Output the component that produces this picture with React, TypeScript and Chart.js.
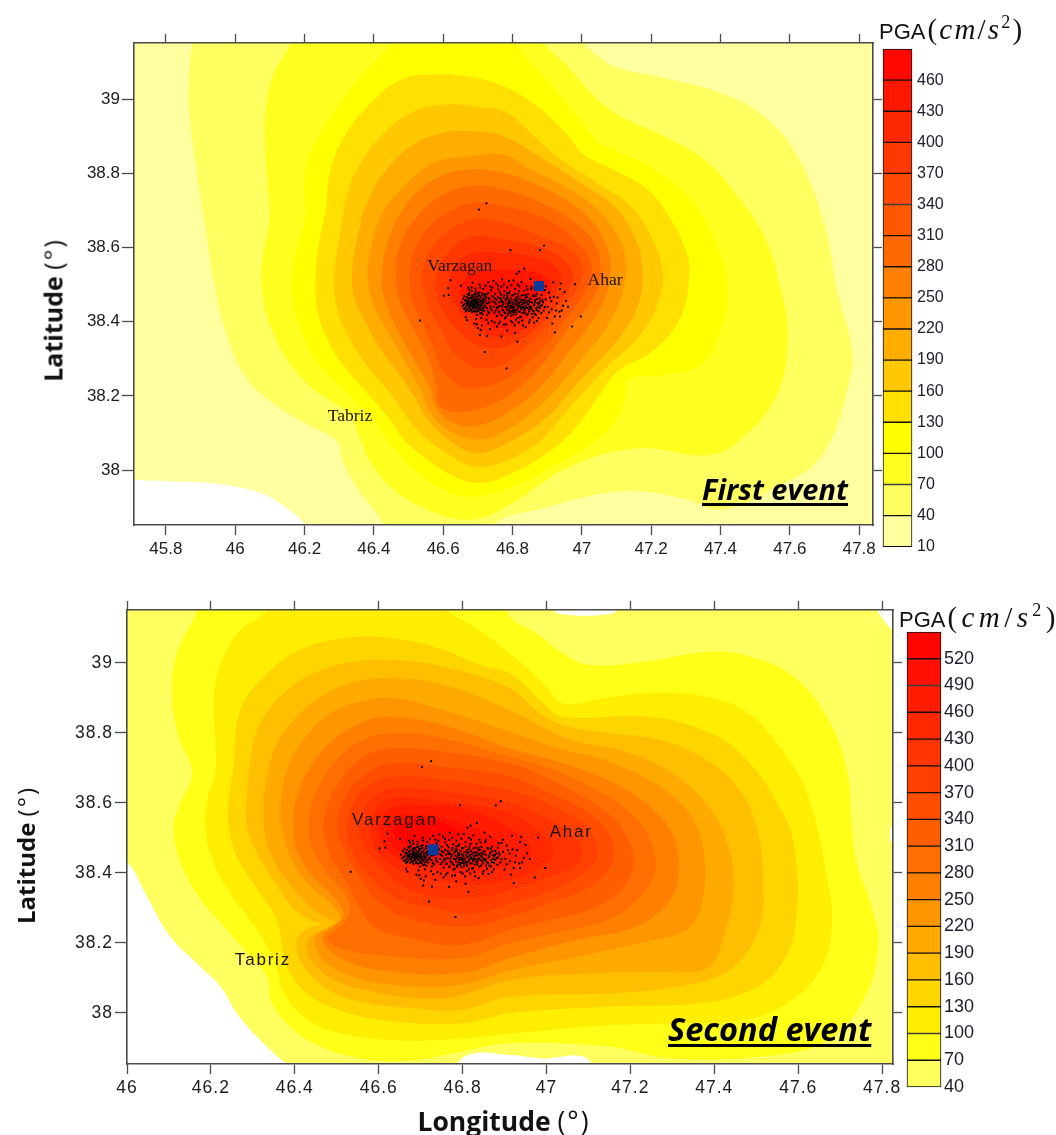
import React, { useEffect, useRef } from "react";
import { Chart, registerables } from "chart.js";

Chart.register(...registerables);

type Pair = number[];

// Longitude / latitude tick values
const lonTicks1 = [45.8, 46, 46.2, 46.4, 46.6, 46.8, 47, 47.2, 47.4, 47.6, 47.8];
const lonTicks2 = [46, 46.2, 46.4, 46.6, 46.8, 47, 47.2, 47.4, 47.6, 47.8];
const latTicks = [38, 38.2, 38.4, 38.6, 38.8, 39];

// PGA levels and colours
const levels1 = [10, 40, 70, 100, 130, 160, 190, 220, 250, 280, 310, 340, 370, 400, 430, 460, 490];
const levels2 = [40, 70, 100, 130, 160, 190, 220, 250, 280, 310, 340, 370, 400, 430, 460, 490, 520, 550];
const colors1 = ["#FFFF9F", "#FFFF60", "#FFFF20", "#FFFF00", "#FFE000", "#FFC800", "#FFAE00", "#FF9800", "#FF8000", "#FF6A00", "#FF5800", "#FF4800", "#FF3800", "#FF2800", "#FF1800", "#FF0800"];
const colors2 = ["#FFFF60", "#FFFF18", "#FFEE00", "#FFD500", "#FFBF00", "#FFAA00", "#FF9500", "#FF8000", "#FF6E00", "#FF5E00", "#FF4E00", "#FF4000", "#FF3400", "#FF2800", "#FF1C00", "#FF1000", "#FF0400"];

// First event: PGA contour outlines, lon/lat
const e1L10: Pair[] = [[45.516,39.331],[48.017,39.331],[48.017,37.624],[46.285,37.624],[46.199,37.852],[46.141,37.902],[46.074,37.938],[45.948,37.963],[45.823,37.969],[45.708,37.974],[45.516,37.983]];
const e1L40: Pair[] = [[45.886,39.223],[45.876,39.151],[45.867,39.061],[45.867,38.971],[45.891,38.792],[45.915,38.648],[45.939,38.504],[45.977,38.36],[46.035,38.244],[46.122,38.172],[46.218,38.118],[46.295,38.077],[46.309,38.028],[46.343,37.965],[46.401,37.893],[46.468,37.821],[46.67,37.812],[46.776,37.871],[46.872,37.893],[47.016,37.929],[47.161,37.943],[47.305,37.92],[47.401,37.893],[47.545,37.947],[47.69,38.037],[47.776,38.252],[47.776,38.342],[47.738,38.477],[47.699,38.666],[47.622,38.846],[47.526,38.953],[47.401,39.016],[47.238,39.057],[47.093,39.088],[47.036,39.124],[47.007,39.151],[46.978,39.223]];
const e1L70: Pair[] = [[46.17,39.223],[46.16,39.151],[46.112,39.07],[46.088,38.971],[46.088,38.837],[46.098,38.72],[46.098,38.666],[46.078,38.567],[46.078,38.477],[46.102,38.387],[46.151,38.297],[46.227,38.217],[46.324,38.154],[46.362,38.082],[46.391,38.019],[46.458,37.947],[46.555,37.893],[46.67,37.866],[46.776,37.898],[46.968,38.01],[47.161,38.059],[47.372,38.041],[47.478,38.1],[47.565,38.208],[47.594,38.36],[47.574,38.486],[47.526,38.63],[47.449,38.738],[47.353,38.837],[47.238,38.899],[47.113,38.953],[47.036,39.007],[46.959,39.088],[46.891,39.151],[46.862,39.223]];
const e1L100: Pair[] = [[46.458,39.223],[46.449,39.151],[46.362,39.061],[46.276,38.953],[46.218,38.854],[46.199,38.774],[46.203,38.684],[46.179,38.603],[46.165,38.522],[46.17,38.432],[46.199,38.36],[46.247,38.279],[46.324,38.208],[46.391,38.145],[46.439,38.082],[46.497,38.019],[46.583,37.956],[46.67,37.929],[46.776,37.947],[46.901,38.001],[47.016,38.064],[47.093,38.127],[47.127,38.199],[47.132,38.244],[47.238,38.257],[47.343,38.284],[47.401,38.378],[47.42,38.486],[47.391,38.603],[47.315,38.729],[47.209,38.81],[47.093,38.863],[47.05,38.881],[46.987,38.953],[46.872,39.079],[46.805,39.151],[46.766,39.223]];
const e1L130: Pair[] = [[46.574,39.066],[46.478,39.052],[46.381,38.98],[46.304,38.881],[46.271,38.792],[46.261,38.702],[46.242,38.612],[46.232,38.522],[46.237,38.432],[46.266,38.351],[46.314,38.279],[46.381,38.208],[46.439,38.145],[46.487,38.082],[46.555,38.028],[46.632,37.983],[46.708,37.965],[46.776,37.983],[46.872,38.028],[46.968,38.1],[47.055,38.208],[47.103,38.266],[47.209,38.324],[47.286,38.414],[47.31,38.522],[47.305,38.576],[47.257,38.675],[47.19,38.756],[47.103,38.805],[47.007,38.85],[46.949,38.913],[46.872,38.98],[46.776,39.034],[46.67,39.061]];
const e1L160: Pair[] = [[46.612,38.985],[46.516,38.967],[46.429,38.908],[46.362,38.828],[46.324,38.747],[46.304,38.648],[46.29,38.567],[46.285,38.504],[46.295,38.432],[46.333,38.351],[46.381,38.279],[46.439,38.217],[46.487,38.154],[46.535,38.1],[46.603,38.05],[46.689,38.01],[46.776,38.023],[46.872,38.073],[46.968,38.172],[47.064,38.27],[47.18,38.378],[47.228,38.477],[47.233,38.54],[47.199,38.63],[47.141,38.711],[47.045,38.774],[46.939,38.837],[46.853,38.908],[46.776,38.967],[46.689,38.98]];
const e1L190: Pair[] = [[46.689,38.913],[46.593,38.908],[46.506,38.872],[46.429,38.801],[46.381,38.72],[46.353,38.63],[46.338,38.54],[46.343,38.468],[46.372,38.405],[46.42,38.324],[46.478,38.252],[46.516,38.199],[46.555,38.136],[46.622,38.077],[46.699,38.046],[46.776,38.068],[46.891,38.136],[46.997,38.244],[47.103,38.351],[47.161,38.441],[47.175,38.54],[47.151,38.63],[47.093,38.711],[46.997,38.774],[46.891,38.837],[46.776,38.899]];
const e1L220: Pair[] = [[46.67,38.845],[46.574,38.828],[46.487,38.765],[46.42,38.684],[46.391,38.594],[46.381,38.522],[46.401,38.441],[46.449,38.36],[46.497,38.279],[46.535,38.217],[46.564,38.154],[46.622,38.104],[46.708,38.082],[46.776,38.104],[46.872,38.167],[46.978,38.275],[47.084,38.405],[47.127,38.522],[47.113,38.612],[47.045,38.702],[46.949,38.765],[46.853,38.81],[46.776,38.85]];
const e1L250: Pair[] = [[46.67,38.81],[46.574,38.783],[46.497,38.72],[46.449,38.639],[46.425,38.549],[46.429,38.468],[46.468,38.378],[46.516,38.297],[46.559,38.226],[46.579,38.172],[46.622,38.131],[46.689,38.118],[46.776,38.149],[46.872,38.217],[46.968,38.324],[47.055,38.441],[47.084,38.54],[47.064,38.621],[47.007,38.693],[46.92,38.747],[46.834,38.783],[46.776,38.801]];
const e1L280: Pair[] = [[46.68,38.765],[46.593,38.738],[46.526,38.684],[46.478,38.612],[46.463,38.522],[46.478,38.45],[46.516,38.378],[46.555,38.306],[46.579,38.235],[46.591,38.172],[46.67,38.158],[46.776,38.194],[46.872,38.27],[46.959,38.378],[47.036,38.468],[47.055,38.54],[47.036,38.612],[46.968,38.675],[46.882,38.72],[46.776,38.756]];
const e1L310: Pair[] = [[46.689,38.72],[46.612,38.693],[46.545,38.639],[46.511,38.576],[46.502,38.522],[46.511,38.459],[46.545,38.387],[46.574,38.324],[46.603,38.262],[46.67,38.221],[46.776,38.244],[46.872,38.315],[46.959,38.414],[47.016,38.495],[47.028,38.549],[46.997,38.603],[46.911,38.67],[46.776,38.711]];
const e1L340: Pair[] = [[46.689,38.675],[46.622,38.648],[46.564,38.594],[46.54,38.522],[46.555,38.45],[46.593,38.378],[46.632,38.315],[46.699,38.275],[46.776,38.288],[46.872,38.36],[46.949,38.441],[47.002,38.522],[46.978,38.585],[46.882,38.63],[46.776,38.666]];
const e1L370: Pair[] = [[46.689,38.63],[46.622,38.594],[46.579,38.522],[46.593,38.441],[46.651,38.369],[46.728,38.329],[46.814,38.347],[46.901,38.414],[46.973,38.513],[46.949,38.567],[46.872,38.603],[46.776,38.621]];
const e1L400: Pair[] = [[46.689,38.585],[46.641,38.558],[46.617,38.513],[46.632,38.45],[46.689,38.387],[46.766,38.36],[46.853,38.396],[46.939,38.513],[46.911,38.558],[46.853,38.576],[46.776,38.585]];
const e1L430: Pair[] = [[46.728,38.539],[46.67,38.522],[46.649,38.477],[46.68,38.423],[46.757,38.383],[46.834,38.405],[46.911,38.495],[46.872,38.531],[46.795,38.54]];
const e1L460: Pair[] = [[46.728,38.504],[46.689,38.477],[46.708,38.432],[46.776,38.414],[46.843,38.441],[46.872,38.486],[46.795,38.509]];
const contours1 = [e1L10, e1L40, e1L70, e1L100, e1L130, e1L160, e1L190, e1L220, e1L250, e1L280, e1L310, e1L340, e1L370, e1L400, e1L430, e1L460];

// Second event: PGA contour outlines, lon/lat
const e2L40: Pair[] = [[45.936,39.237],[47.017,39.237],[47.017,39.151],[47.056,39.137],[47.128,39.137],[47.168,39.151],[47.168,39.237],[47.749,39.237],[47.788,39.151],[47.82,39.099],[47.907,39.008],[47.907,38.551],[47.829,38.541],[47.819,38.513],[47.829,38.48],[47.907,38.484],[47.923,37.77],[47.144,37.77],[47.096,37.87],[46.993,37.87],[46.913,37.88],[46.81,37.878],[46.745,37.8],[46.477,37.77],[46.389,37.846],[46.318,37.922],[46.262,37.999],[46.223,38.075],[46.167,38.141],[46.103,38.218],[46.048,38.332],[46,38.432],[45.936,38.484]];
const e2L70: Pair[] = [[46.171,39.227],[46.167,39.151],[46.119,39.027],[46.107,38.913],[46.123,38.789],[46.155,38.684],[46.123,38.589],[46.111,38.522],[46.131,38.418],[46.183,38.313],[46.238,38.237],[46.294,38.161],[46.334,38.103],[46.342,38.037],[46.381,37.97],[46.445,37.913],[46.556,37.87],[46.684,37.865],[46.795,37.889],[46.913,37.913],[47.152,37.903],[47.295,37.87],[47.549,37.88],[47.668,37.922],[47.756,38.037],[47.791,38.199],[47.772,38.313],[47.74,38.427],[47.728,38.532],[47.716,38.694],[47.668,38.846],[47.589,38.961],[47.485,39.018],[47.39,39.032],[47.231,39.003],[47.104,38.994],[47.04,39.027],[46.977,39.084],[46.913,39.132],[46.874,39.227]];
const e2L100: Pair[] = [[46.342,39.227],[46.334,39.151],[46.27,39.094],[46.227,39.008],[46.207,38.903],[46.211,38.77],[46.211,38.694],[46.191,38.608],[46.187,38.522],[46.207,38.427],[46.246,38.341],[46.294,38.265],[46.334,38.189],[46.358,38.122],[46.374,38.056],[46.421,37.989],[46.493,37.946],[46.636,37.922],[46.795,37.927],[46.913,37.941],[47.152,37.965],[47.311,37.97],[47.47,37.98],[47.573,38.027],[47.652,38.122],[47.68,38.246],[47.668,38.389],[47.621,38.627],[47.549,38.77],[47.47,38.865],[47.358,38.908],[47.231,38.913],[47.136,38.899],[47.04,38.884],[46.993,38.941],[46.913,39.027],[46.827,39.103],[46.763,39.151],[46.715,39.227]];
const e2L130: Pair[] = [[46.636,39.07],[46.517,39.07],[46.413,39.037],[46.334,38.97],[46.27,38.865],[46.254,38.703],[46.242,38.608],[46.242,38.532],[46.262,38.446],[46.306,38.361],[46.358,38.265],[46.37,38.189],[46.389,38.113],[46.429,38.056],[46.493,38.013],[46.604,37.98],[46.795,37.97],[46.913,37.999],[47.152,38.018],[47.358,38.027],[47.47,38.056],[47.549,38.122],[47.593,38.246],[47.589,38.484],[47.541,38.618],[47.47,38.732],[47.39,38.799],[47.247,38.846],[47.04,38.846],[46.993,38.884],[46.913,38.97],[46.842,38.994],[46.755,39.037]];
const e2L160: Pair[] = [[46.636,39.008],[46.54,39.003],[46.445,38.97],[46.374,38.913],[46.318,38.827],[46.294,38.722],[46.286,38.618],[46.286,38.532],[46.31,38.456],[46.35,38.38],[46.393,38.303],[46.437,38.265],[46.461,38.256],[46.437,38.244],[46.409,38.222],[46.405,38.18],[46.421,38.132],[46.469,38.075],[46.54,38.037],[46.684,38.013],[46.795,38.008],[46.913,38.046],[47.152,38.056],[47.311,38.075],[47.406,38.103],[47.462,38.151],[47.509,38.246],[47.517,38.361],[47.501,38.532],[47.454,38.646],[47.382,38.722],[47.271,38.78],[47.152,38.799],[47.04,38.822],[46.985,38.856],[46.913,38.927],[46.755,38.989]];
const e2L190: Pair[] = [[46.636,38.956],[46.548,38.946],[46.469,38.908],[46.405,38.846],[46.358,38.77],[46.334,38.675],[46.326,38.58],[46.33,38.503],[46.354,38.427],[46.393,38.361],[46.437,38.303],[46.477,38.27],[46.497,38.261],[46.469,38.237],[46.437,38.218],[46.429,38.18],[46.445,38.141],[46.493,38.094],[46.572,38.065],[46.715,38.041],[46.795,38.051],[46.913,38.094],[47.112,38.113],[47.271,38.118],[47.382,38.127],[47.422,38.218],[47.446,38.37],[47.422,38.513],[47.366,38.618],[47.287,38.694],[47.175,38.751],[47.056,38.78],[46.913,38.865],[46.755,38.937]];
const e2L220: Pair[] = [[46.636,38.899],[46.556,38.889],[46.485,38.856],[46.421,38.78],[46.381,38.694],[46.366,38.58],[46.374,38.503],[46.397,38.427],[46.437,38.361],[46.485,38.313],[46.509,38.27],[46.485,38.246],[46.453,38.222],[46.449,38.189],[46.477,38.141],[46.54,38.103],[46.636,38.08],[46.795,38.08],[46.913,38.122],[47.072,38.16],[47.255,38.208],[47.334,38.237],[47.366,38.294],[47.378,38.418],[47.358,38.532],[47.311,38.608],[47.231,38.675],[47.136,38.722],[47.017,38.76],[46.913,38.803],[46.755,38.865]];
const e2L250: Pair[] = [[46.636,38.846],[46.564,38.832],[46.493,38.78],[46.437,38.703],[46.405,38.618],[46.397,38.541],[46.405,38.465],[46.445,38.389],[46.493,38.332],[46.517,38.28],[46.493,38.246],[46.469,38.222],[46.469,38.199],[46.509,38.156],[46.604,38.122],[46.795,38.113],[46.913,38.156],[47.072,38.208],[47.191,38.237],[47.255,38.275],[47.303,38.341],[47.315,38.418],[47.303,38.503],[47.263,38.57],[47.191,38.637],[47.088,38.694],[46.985,38.732],[46.913,38.756],[46.755,38.822]];
const e2L280: Pair[] = [[46.636,38.799],[46.556,38.775],[46.493,38.713],[46.449,38.627],[46.433,38.541],[46.441,38.475],[46.477,38.399],[46.525,38.332],[46.529,38.28],[46.501,38.237],[46.477,38.213],[46.509,38.184],[46.604,38.165],[46.795,38.156],[46.913,38.199],[47.032,38.232],[47.144,38.265],[47.207,38.313],[47.251,38.38],[47.259,38.437],[47.239,38.513],[47.191,38.58],[47.12,38.637],[47.017,38.694],[46.913,38.732],[46.755,38.784]];
const e2L310: Pair[] = [[46.636,38.756],[46.564,38.732],[46.509,38.665],[46.477,38.589],[46.469,38.522],[46.485,38.446],[46.525,38.37],[46.556,38.303],[46.588,38.246],[46.676,38.213],[46.795,38.194],[46.913,38.237],[46.993,38.261],[47.088,38.289],[47.16,38.332],[47.199,38.389],[47.207,38.446],[47.183,38.522],[47.136,38.58],[47.072,38.627],[46.977,38.684],[46.913,38.713],[46.755,38.746]];
const e2L340: Pair[] = [[46.636,38.713],[46.572,38.684],[46.525,38.627],[46.501,38.541],[46.517,38.465],[46.556,38.389],[46.596,38.322],[46.66,38.275],[46.795,38.246],[46.913,38.275],[47.017,38.318],[47.104,38.361],[47.152,38.418],[47.161,38.465],[47.144,38.522],[47.088,38.58],[47.009,38.627],[46.913,38.675],[46.755,38.703]];
const e2L370: Pair[] = [[46.636,38.675],[46.572,38.646],[46.536,38.589],[46.525,38.522],[46.54,38.456],[46.58,38.389],[46.636,38.332],[46.715,38.303],[46.827,38.284],[46.913,38.313],[46.993,38.341],[47.064,38.38],[47.112,38.427],[47.121,38.465],[47.096,38.532],[47.032,38.58],[46.961,38.618],[46.913,38.637],[46.755,38.665]];
const e2L400: Pair[] = [[46.636,38.641],[46.58,38.608],[46.556,38.541],[46.564,38.484],[46.604,38.418],[46.66,38.361],[46.739,38.332],[46.842,38.332],[46.913,38.351],[47.017,38.394],[47.072,38.427],[47.084,38.465],[47.056,38.513],[46.993,38.56],[46.913,38.599],[46.755,38.632]];
const e2L430: Pair[] = [[46.636,38.613],[46.592,38.58],[46.58,38.522],[46.596,38.465],[46.636,38.418],[46.699,38.389],[46.795,38.37],[46.913,38.38],[46.986,38.418],[47.017,38.465],[46.986,38.513],[46.913,38.57],[46.755,38.603]];
const e2L460: Pair[] = [[46.636,38.589],[46.608,38.56],[46.6,38.513],[46.628,38.456],[46.699,38.418],[46.795,38.399],[46.874,38.408],[46.953,38.441],[46.966,38.465],[46.93,38.513],[46.819,38.58],[46.715,38.594]];
const e2L490: Pair[] = [[46.644,38.56],[46.62,38.522],[46.636,38.475],[46.691,38.437],[46.795,38.418],[46.858,38.437],[46.89,38.475],[46.858,38.513],[46.795,38.541],[46.715,38.565]];
const e2L520: Pair[] = [[46.652,38.541],[46.636,38.513],[46.66,38.484],[46.715,38.484],[46.779,38.494],[46.795,38.513],[46.755,38.541],[46.699,38.556]];
const contours2 = [e2L40, e2L70, e2L100, e2L130, e2L160, e2L190, e2L220, e2L250, e2L280, e2L310, e2L340, e2L370, e2L400, e2L430, e2L460, e2L490, e2L520];

// Aftershock catalogue, lon/lat (same in both panels)
const aftershocksA: Pair[] = [
[46.725,38.719],[46.703,38.702],[46.794,38.593],[46.879,38.593],[46.891,38.605],[46.834,38.543],[46.819,38.535],[46.812,38.529],[46.621,38.512],[46.614,38.49],[46.651,38.497],[46.602,38.47],[46.616,38.472],[46.533,38.403],[46.98,38.501],[46.997,38.414],[46.972,38.387],[46.922,38.371],[46.814,38.346],[46.72,38.318],[46.783,38.274],[46.807,38.369],[46.768,38.36],[46.727,38.361],[46.706,38.364],[46.708,38.378],[46.697,38.393],[46.668,38.404],[46.918,38.506],[46.939,38.503],[46.937,38.488],[46.954,38.456],[46.946,38.443],[46.919,38.467],[46.927,38.449],[46.922,38.414],[46.937,38.414],[46.935,38.427],[46.913,38.433],[46.905,38.478],[46.896,38.46],[46.902,38.44],
[46.653,38.452],[46.656,38.441],[46.658,38.462],[46.66,38.434],[46.662,38.448],[46.664,38.457],[46.665,38.428],[46.667,38.441],[46.668,38.466],[46.669,38.451],[46.671,38.436],[46.672,38.459],[46.673,38.444],[46.674,38.472],[46.675,38.429],[46.676,38.453],[46.677,38.438],[46.678,38.464],[46.679,38.447],[46.68,38.456],[46.681,38.432],[46.682,38.47],[46.683,38.442],[46.684,38.451],[46.685,38.46],[46.685,38.436],[46.686,38.446],[46.687,38.455],[46.688,38.466],[46.689,38.441],[46.69,38.45],[46.69,38.431],[46.691,38.459],[46.692,38.445],[46.693,38.453],[46.694,38.474],[46.694,38.437],[46.695,38.448],[46.696,38.462],[46.697,38.441],[46.698,38.456],[46.699,38.429],[46.7,38.447],[46.7,38.468],[46.701,38.452],[46.702,38.438],[46.703,38.46],[46.704,38.444],[46.705,38.479],[46.706,38.433],[46.707,38.453],[46.708,38.465],[46.709,38.442],[46.71,38.424],[46.711,38.456],[46.712,38.47],[46.713,38.447],[46.714,38.436],[46.715,38.461],[46.716,38.451],[46.718,38.429],[46.719,38.474],[46.72,38.443],[46.722,38.457],[46.724,38.466],[46.726,38.436],[46.728,38.45],[46.73,38.478],[46.732,38.424],[46.734,38.46],[46.736,38.442],[46.738,38.485],[46.74,38.431],[46.742,38.455],
[46.744,38.467],[46.746,38.44],[46.748,38.425],[46.75,38.474],[46.752,38.448],[46.754,38.459],[46.755,38.415],[46.757,38.436],[46.759,38.487],[46.76,38.452],[46.762,38.427],[46.764,38.463],[46.765,38.442],[46.767,38.473],[46.768,38.418],[46.77,38.455],[46.771,38.433],[46.773,38.447],[46.774,38.465],[46.776,38.426],[46.777,38.482],[46.779,38.44],[46.78,38.458],[46.781,38.412],[46.783,38.449],[46.784,38.432],[46.785,38.469],[46.787,38.444],[46.788,38.422],[46.789,38.456],[46.79,38.477],[46.791,38.437],[46.792,38.451],[46.794,38.428],[46.795,38.462],[46.796,38.443],[46.797,38.416],[46.798,38.454],[46.8,38.435],[46.801,38.471],[46.802,38.447],[46.803,38.426],[46.804,38.459],[46.805,38.44],[46.807,38.488],[46.808,38.452],[46.809,38.431],[46.81,38.465],[46.811,38.42],[46.812,38.445],[46.814,38.456],[46.815,38.436],[46.816,38.475],[46.817,38.449],[46.818,38.427],[46.82,38.462],[46.821,38.441],[46.822,38.413],[46.823,38.453],[46.825,38.434],[46.826,38.47],[46.827,38.446],[46.829,38.424],[46.83,38.458],[46.831,38.439],[46.833,38.483],[46.834,38.45],[46.835,38.43],[46.837,38.465],[46.838,38.443],[46.84,38.418],[46.841,38.455],[46.843,38.437],[46.845,38.474],[46.846,38.447],[46.848,38.427],[46.85,38.461],[46.852,38.44],[46.854,38.488],[46.856,38.452],[46.858,38.43],[46.86,38.469],[46.862,38.444],[46.864,38.421],[46.866,38.458],[46.868,38.436],[46.87,38.475],[46.872,38.45],[46.875,38.428],[46.878,38.463],[46.881,38.442],[46.884,38.472],[46.888,38.452],[46.89,38.43],[46.893,38.485],
[46.665,38.412],[46.675,38.486],[46.683,38.483],[46.695,38.407],[46.71,38.41],[46.716,38.488],[46.725,38.405],[46.735,38.495],[46.74,38.402],[46.753,38.503],[46.76,38.395],[46.775,38.5],[46.782,38.393],[46.79,38.51],[46.8,38.398],[46.81,38.405],[46.82,38.495],[46.83,38.39],[46.84,38.495],[46.85,38.405],[46.862,38.397],[46.875,38.41],[46.866,38.503],[46.852,38.515],[46.77,38.514],[46.745,38.51],[46.705,38.5],[46.685,38.505],[46.672,38.492]
];
const aftershocksB: Pair[] = [
[46.661,38.469],[46.668,38.431],[46.676,38.478],[46.659,38.445],[46.683,38.426],[46.691,38.474],[46.672,38.452],[46.698,38.418],[46.704,38.471],[46.687,38.437],[46.664,38.458],[46.712,38.431],[46.695,38.463],[46.678,38.444],[46.72,38.469],[46.706,38.422],[46.684,38.459],[46.669,38.447],[46.716,38.455],[46.699,38.434],[46.727,38.418],[46.693,38.481],[46.681,38.449],[46.674,38.463],[46.708,38.448],[46.722,38.441],[46.689,38.428],[46.731,38.463],[46.663,38.436],[46.697,38.452],[46.713,38.476],[46.686,38.471],[46.702,38.428],[46.671,38.474],[46.725,38.449],[46.679,38.433],[46.737,38.436],[46.692,38.443],[46.705,38.459],[46.718,38.438],[46.683,38.454],[46.694,38.427],[46.733,38.452],[46.667,38.455],[46.711,38.443],[46.701,38.477],[46.688,38.448],[46.676,38.439],[46.729,38.428],[46.696,38.469],[46.741,38.469],[46.719,38.462],[46.707,38.437],[46.682,38.465],[46.691,38.456],[46.674,38.447],[46.699,38.444],[46.714,38.42],[46.726,38.474],[46.685,38.441],
[46.748,38.452],[46.763,38.479],[46.752,38.431],[46.771,38.441],[46.758,38.466],[46.779,38.423],[46.766,38.454],[46.784,38.476],[46.773,38.431],[46.791,38.456],[46.778,38.409],[46.797,38.438],[46.786,38.463],[46.803,38.419],[46.792,38.482],[46.81,38.447],[46.799,38.428],[46.816,38.468],[46.805,38.439],[46.822,38.427],[46.813,38.459],[46.829,38.448],[46.819,38.483],[46.836,38.436],[46.825,38.413],[46.842,38.466],[46.832,38.451],[46.849,38.441],[46.838,38.472],[46.856,38.421],[46.846,38.456],[46.863,38.447],[46.853,38.435],[46.871,38.461],[46.86,38.471],[46.878,38.437],[46.868,38.418],[46.886,38.458],[46.875,38.447],[46.893,38.439],[46.759,38.441],[46.769,38.417],[46.776,38.471],[46.783,38.439],[46.794,38.423],[46.8,38.451],[46.807,38.475],[46.812,38.432],[46.818,38.451],[46.824,38.44],[46.831,38.472],[46.835,38.424],[46.84,38.452],[46.847,38.433],[46.852,38.462],[46.858,38.412],[46.865,38.454],[46.87,38.431],[46.877,38.451],[46.883,38.423],[46.75,38.462],[46.755,38.438],[46.761,38.425],[46.767,38.46],[46.774,38.452],[46.782,38.462],[46.787,38.417],[46.793,38.443],[46.798,38.47],[46.804,38.432],[46.811,38.459],[46.815,38.41],[46.82,38.444],[46.826,38.459],[46.833,38.432],[46.839,38.44],[46.844,38.421],[46.85,38.453],[46.855,38.438],[46.861,38.428],[46.867,38.469],[46.873,38.44],[46.88,38.455],[46.885,38.445],[46.79,38.45],[46.801,38.44],[46.809,38.425],[46.817,38.44],[46.827,38.438],[46.835,38.458],[46.844,38.447],[46.79,38.43],
[46.69,38.395],[46.7,38.383],[46.712,38.39],[46.73,38.396],[46.735,38.38],[46.748,38.398],[46.755,38.387],[46.764,38.4],[46.775,38.392],[46.785,38.376],[46.795,38.402],[46.806,38.39],[46.818,38.398],[46.828,38.403],[46.838,38.385],[46.848,38.398],[46.87,38.402],[46.682,38.492],[46.693,38.489],[46.706,38.492],[46.722,38.497],[46.73,38.506],[46.742,38.492],[46.758,38.497],[46.768,38.494],[46.785,38.492],[46.797,38.498],[46.803,38.511],[46.815,38.5],[46.826,38.507],[46.843,38.487],[46.855,38.493],[46.886,38.485],[46.896,38.495],[46.905,38.425],[46.912,38.455],[46.93,38.465],[46.908,38.465],[46.925,38.43],[46.9,38.41],[46.915,38.395],[46.95,38.48],[46.942,38.43],[46.96,38.44]
];
const aftershocks = [...aftershocksA, ...aftershocksB];

const eventLon1 = [46.876];
const eventLat1 = [38.496];
const eventLon2 = [46.73];
const eventLat2 = [38.466];

const townNames = ["Varzagan", "Ahar", "Tabriz"];
const townLon1 = [46.648, 47.067, 46.331];
const townLat1 = [38.55, 38.512, 38.146];
const townLon2 = [46.639, 47.059, 46.324];
const townLat2 = [38.551, 38.517, 38.149];

const axisColor = "#4a4a4a";

type MapProps = {
  style: React.CSSProperties; w: number; h: number;
  pad: { left: number; right: number; top: number; bottom: number };
  xRange: number[]; yRange: number[]; xTicks: number[];
  contours: Pair[][]; colors: string[];
  evLon: number[]; evLat: number[]; evRadius: number;
  tLon: number[]; tLat: number[]; townFont: string; townSpacing: string;
  tickFont: number; tickSpacing: string;
};

function ContourMap(p: MapProps) {
  const ref = useRef<HTMLCanvasElement>(null);
  useEffect(() => {
    const fitTo = (size: number, horizontal: boolean) => (s: any) => {
      if (horizontal) s.height = size; else s.width = size;
      s.paddingLeft = s.paddingRight = s.paddingTop = s.paddingBottom = 0;
    };
    const setTicks = (vals: number[]) => (s: any) => { s.ticks = vals.map((value) => ({ value })); };
    const contourSets = p.contours.map((c, i) => ({
      data: [c[c.length - 1], ...c, c[0], c[1]].map(([x, y]) => ({ x, y })),
      showLine: true, fill: "shape" as any, backgroundColor: p.colors[i], borderWidth: 0,
      pointRadius: 0, tension: 0.4, capBezierPoints: false, order: 100 - i,
    }));
    const chart = new Chart(ref.current!, {
      type: "scatter",
      data: {
        datasets: [
          ...contourSets,
          { data: aftershocks.map(([x, y]) => ({ x, y })), pointStyle: "rect", pointRadius: 1.4, pointBackgroundColor: "#000", pointBorderWidth: 0, order: 2 } as any,
          { data: p.evLon.map((x, i) => ({ x, y: p.evLat[i] })), pointStyle: "rect", pointRadius: p.evRadius, pointBackgroundColor: "#0A3A9C", pointBorderWidth: 0, order: 1 } as any,
        ],
      },
      options: {
        animation: false, responsive: false, maintainAspectRatio: false,
        layout: { padding: p.pad },
        plugins: { legend: { display: false }, tooltip: { enabled: false } },
        events: [],
        scales: {
          x: {
            type: "linear", position: "bottom", min: p.xRange[0], max: p.xRange[1],
            afterBuildTicks: setTicks(p.xTicks), afterFit: fitTo(45, true),
            grid: { drawOnChartArea: false, tickLength: 10, tickColor: axisColor, tickWidth: 1.3 },
            border: { color: axisColor, width: 1.6, z: 1 },
            ticks: { autoSkip: false, maxRotation: 0, padding: 4, color: "#1c1c1c", font: { family: "Liberation Sans", size: p.tickFont }, callback: (v: any) => String(v) },
          },
          xTop: {
            type: "linear", position: "top", min: p.xRange[0], max: p.xRange[1],
            afterBuildTicks: setTicks(p.xTicks), afterFit: fitTo(10, true),
            grid: { drawOnChartArea: false, tickLength: 9, tickColor: axisColor, tickWidth: 1.3 },
            border: { color: axisColor, width: 1.6, z: 1 }, ticks: { display: false },
          },
          y: {
            type: "linear", position: "left", min: p.yRange[0], max: p.yRange[1],
            afterBuildTicks: setTicks(latTicks), afterFit: fitTo(60, false),
            grid: { drawOnChartArea: false, tickLength: 12, tickColor: axisColor, tickWidth: 1.3 },
            border: { color: axisColor, width: 1.6, z: 1 },
            ticks: { autoSkip: false, padding: 2, color: "#1c1c1c", font: { family: "Liberation Sans", size: p.tickFont }, callback: (v: any) => String(v) },
          },
          yRight: {
            type: "linear", position: "right", min: p.yRange[0], max: p.yRange[1],
            afterBuildTicks: setTicks(latTicks), afterFit: fitTo(10, false),
            grid: { drawOnChartArea: false, tickLength: 9, tickColor: axisColor, tickWidth: 1.3 },
            border: { color: axisColor, width: 1.6, z: 1 }, ticks: { display: false },
          },
        },
      },
      plugins: [
        {
          id: "tickSpacing",
          beforeDraw(c: any) { c.ctx.letterSpacing = p.tickSpacing; },
        },
        {
          id: "towns",
          afterDatasetsDraw(c: any) {
            const { ctx, scales } = c;
            ctx.save();
            ctx.font = p.townFont;
            ctx.letterSpacing = p.townSpacing;
            ctx.fillStyle = "#1a1200";
            ctx.textAlign = "center";
            ctx.textBaseline = "middle";
            townNames.forEach((t, i) => ctx.fillText(t, scales.x.getPixelForValue(p.tLon[i]), scales.y.getPixelForValue(p.tLat[i])));
            ctx.restore();
          },
        },
      ],
    } as any);
    return () => chart.destroy();
  }, []);
  return <canvas ref={ref} width={p.w} height={p.h} style={{ position: "absolute", ...p.style, width: p.w, height: p.h }} />;
}

type BarProps = { style: React.CSSProperties; w: number; h: number; pad: any; levels: number[]; colors: string[]; font: number; gap: number };

function ColorBar(p: BarProps) {
  const ref = useRef<HTMLCanvasElement>(null);
  useEffect(() => {
    const lo = p.levels[0];
    const hi = p.levels[p.levels.length - 1];
    const chart = new Chart(ref.current!, {
      type: "bar",
      data: {
        labels: ["PGA"],
        datasets: p.colors.map((c, i) => ({
          data: [[p.levels[i], p.levels[i + 1]]] as any,
          backgroundColor: c, borderColor: "#111", borderWidth: 1, borderSkipped: false,
          barPercentage: 1, categoryPercentage: 1, grouped: false, clip: false as any,
        })),
      },
      options: {
        animation: false, responsive: false, maintainAspectRatio: false,
        layout: { padding: p.pad },
        plugins: { legend: { display: false }, tooltip: { enabled: false } },
        events: [],
        scales: {
          x: { display: false, grid: { display: false } },
          y: {
            position: "right", min: lo, max: hi,
            afterBuildTicks: (s: any) => { s.ticks = p.levels.slice(0, -1).map((value) => ({ value })); },
            afterFit: (s: any) => { s.width = 60; s.paddingTop = s.paddingBottom = 0; },
            grid: { display: false, drawTicks: false },
            border: { display: false },
            ticks: { autoSkip: false, padding: p.gap, color: "#1c1c2c", font: { family: "Liberation Sans", size: p.font }, callback: (v: any) => String(v) },
          },
        },
      },
    } as any);
    return () => chart.destroy();
  }, []);
  return <canvas ref={ref} width={p.w} height={p.h} style={{ position: "absolute", ...p.style, width: p.w, height: p.h }} />;
}

const label = (extra: React.CSSProperties): React.CSSProperties => ({ position: "absolute", whiteSpace: "nowrap", color: "#000", ...extra });

function PgaTitle({ left, top, size, spacing }: { left: number; top: number; size: number; spacing: number }) {
  return (
    <div style={label({ left, top, fontFamily: "Liberation Sans", fontSize: size, lineHeight: "30px", color: "#111" })}>
      PGA<span style={{ fontFamily: "Liberation Serif", fontSize: size + 7, letterSpacing: spacing, marginLeft: 2 }}>(<i>cm</i>/<i>s</i><sup style={{ fontSize: size - 4, lineHeight: 0 }}>2</sup>)</span>
    </div>
  );
}

function EventTag({ text, left, top, size }: { text: string; left: number; top: number; size: number }) {
  return (
    <div style={label({ left, top, fontFamily: "Open Sans", fontWeight: 700, fontStyle: "italic", fontSize: size, lineHeight: `${size + 8}px`, textDecoration: "underline", textDecorationThickness: 2.5, textUnderlineOffset: 3 })}>{text}</div>
  );
}

function AxisTitle({ text, left, top, size, rotate }: { text: string; left: number; top: number; size: number; rotate?: boolean }) {
  return (
    <div style={label({ left, top, fontFamily: "Open Sans", fontWeight: 700, fontSize: size, lineHeight: `${size + 4}px`, transform: rotate ? "translate(-50%,-50%) rotate(-90deg)" : "translate(-50%,-50%)", color: "#111" })}>
      {text.replace(" (°)", "")} <span style={{ fontWeight: 400, letterSpacing: 2 }}>(°)</span>
    </div>
  );
}

export default function App() {
  return (
    <div style={{ position: "absolute", left: 0, top: 0, width: 1056, height: 1135, background: "#fff", overflow: "hidden" }}>
      <ContourMap
        style={{ left: 0, top: 0 }} w={895} h={575}
        pad={{ left: 74, right: 12, top: 33, bottom: 5 }}
        xRange={[45.708, 47.84]} yRange={[37.852, 39.151]} xTicks={lonTicks1}
        contours={contours1} colors={colors1}
        evLon={eventLon1} evLat={eventLat1} evRadius={7.2}
        tLon={townLon1} tLat={townLat1} townFont="17.5px 'Liberation Serif'" townSpacing="0px"
        tickFont={17} tickSpacing="0px"
      />
      <ColorBar style={{ left: 875, top: 40 }} w={181} h={520} pad={{ left: 8, right: 84, top: 9, bottom: 13.3 }} levels={levels1} colors={colors1} font={16} gap={5} />
      <ContourMap
        style={{ left: 0, top: 590 }} w={905} h={530}
        pad={{ left: 67, right: 2, top: 10, bottom: 11 }}
        xRange={[46, 47.826]} yRange={[37.854, 39.151]} xTicks={lonTicks2}
        contours={contours2} colors={colors2}
        evLon={eventLon2} evLat={eventLat2} evRadius={7.8}
        tLon={townLon2} tLat={townLat2} townFont="17px 'Liberation Sans'" townSpacing="1.8px"
        tickFont={17.5} tickSpacing="1px"
      />
      <ColorBar style={{ left: 898, top: 620 }} w={158} h={480} pad={{ left: 9, right: 55, top: 12, bottom: 13 }} levels={levels2} colors={colors2} font={18} gap={3} />
      <PgaTitle left={879} top={14} size={22} spacing={2.2} />
      <PgaTitle left={899} top={602} size={22} spacing={4.4} />
      <EventTag text="First event" left={702} top={470} size={29} />
      <EventTag text="Second event" left={668} top={1009} size={32.5} />
      <AxisTitle text="Latitude (°)" left={53} top={310} size={25} rotate />
      <AxisTitle text="Latitude (°)" left={26} top={855} size={24} rotate />
      <AxisTitle text="Longitude (°)" left={504} top={1121} size={26.5} />
    </div>
  );
}
